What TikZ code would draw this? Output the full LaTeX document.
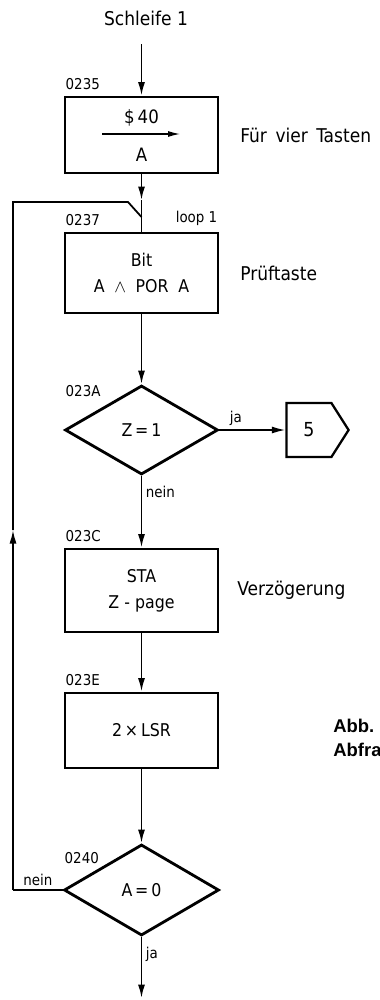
\documentclass[tikz,border=0pt]{standalone}
\usepackage{fontspec}
\setmainfont{DejaVu Sans Condensed}
\newfontfamily\capfont{Liberation Sans}
\usetikzlibrary{shapes.geometric, shapes.symbols, arrows.meta, positioning}
\tikzset{
  box/.style = {rectangle, draw, line width=1.6pt, minimum width=3.06cm, inner sep=0pt,
                align=center, font=\fontsize{10}{15}\selectfont},
  decision/.style = {diamond, draw, line width=1.6pt, minimum width=3.06cm, minimum height=1.78cm,
                     aspect=1.7, inner sep=0pt, font=\fontsize{10}{12}\selectfont},
  exitmark/.style = {signal, signal to=east, signal pointer angle=115, draw, line width=1.3pt,
                     minimum width=1.24cm, minimum height=1.08cm, inner sep=0pt,
                     font=\fontsize{11}{12}\selectfont},
  line/.style = {line width=1pt},
  arrow/.style = {line, -{Latex[length=2.7mm, width=1.4mm]}},
  thinarrow/.style = {line width=0.7pt, -{Latex[length=2.4mm, width=1.2mm]}},
  addr/.style = {font=\fontsize{8.5}{9}\selectfont, inner sep=1pt},
  lbl/.style = {font=\fontsize{8.5}{10}\selectfont, inner sep=2pt},
  note/.style = {font=\fontsize{10.8}{12}\selectfont, anchor=west, inner sep=0pt},
  fig/.style = {font=\capfont\bfseries\fontsize{10.5}{12}\selectfont, anchor=west, inner sep=0pt},
}

\begin{document}
\begin{tikzpicture}
  \useasboundingbox (0,0) rectangle (7.58,-20);
  % x-position of the main column
  \def\colX{2.83}
  \def\loopX{0.26}
  \def\loopY{-4.04}

  % --- Start ---
  \node[font=\fontsize{10.8}{12}\selectfont] at (2.92,-0.36) (Start) {Schleife 1};

  % --- Boxes and decisions ---
  \node[box, minimum height=1.52cm] at (\colX,-2.70) (B1) {};
  \node[font=\fontsize{10.5}{12}\selectfont] at (\colX,-2.36) (B1top) {\$\,40};
  \node[font=\fontsize{10.5}{12}\selectfont] at (\colX,-3.10) (B1bot) {A};
  \coordinate (B1l) at (2.04,-2.68);
  \coordinate (B1r) at (3.60,-2.68);
  \draw[thinarrow] (B1l) -- (B1r);

  \node[box, minimum height=1.60cm] at (\colX,-5.46) (B2)
    {Bit\\A\hspace{0.55em}$\wedge$\hspace{0.55em}POR\hspace{0.55em}A};
  \node[decision] at (\colX,-8.60) (D1) {Z\,=\,1};
  \node[exitmark] at (6.18,-8.60) (X5) {5};
  \node[box, minimum height=1.66cm] at (\colX,-11.81) (B3) {STA\\Z - page};
  \node[box, minimum height=1.50cm] at (\colX,-14.61) (B4) {2\,×\,LSR};
  \node[decision, minimum width=3.1cm, minimum height=1.82cm] at (\colX,-17.80) (D2) {A\,=\,0};

  % --- Addresses ---
  \node[addr, anchor=south west] at ([yshift=2pt] B1.north west) (a0235) {0235};
  \node[addr, anchor=south west] at ([yshift=2pt] B2.north west) (a0237) {0237};
  \node[addr, anchor=south east] at ([yshift=2pt] B2.north east) (loop1) {loop 1};
  \node[addr, anchor=west] at ([yshift=-0.14cm] D1.north -| D1.west) (a023A) {023A};
  \node[addr, anchor=south west] at ([yshift=2pt] B3.north west) (a023C) {023C};
  \node[addr, anchor=south west] at ([yshift=2pt] B4.north west) (a023E) {023E};
  \node[addr, anchor=west] at ([yshift=-0.3cm] D2.north -| D2.west) (a0240) {0240};

  % --- Notes ---
  \node[note] at (4.80,-2.70) (n1) {Für\hspace{0.45em}vier\hspace{0.45em}Tasten};
  \node[note] at (4.80,-5.46) (n2) {Prüftaste};
  \node[note] at (4.74,-11.80) (n3) {Verzögerung};
  \node[fig] at (6.66,-14.52) (c1) {Abb.};
  \node[fig] at (6.66,-15.00) (c2) {Abfra};

  % --- Flow ---
  \coordinate (A1) at (\colX,-4.00);
  \coordinate (J) at (\colX,-4.34);
  \coordinate (Out) at (\colX,-19.96);
  \draw[arrow] ([yshift=-0.25cm] Start.south -| B1.north) -- (B1.north);
  \draw[arrow] (B1.south) -- (A1);
  \draw[line] (A1) -- (B2.north);
  \draw[arrow] (B2.south) -- (D1.north);
  \draw[arrow] (D1.east) -- node[pos=0.25, above, lbl] {ja} (X5.west);
  \draw[arrow] (D1.south) -- node[pos=0.22, right, lbl] {nein} (B3.north);
  \draw[arrow] (B3.south) -- (B4.north);
  \draw[arrow] (B4.south) -- (D2.north);
  \draw[arrow] (D2.south) -- node[pos=0.28, right, lbl] {ja} (Out);

  % --- Loop back ---
  \coordinate (LoopB) at (\loopX,-17.80);
  \coordinate (LoopM) at (\loopX,-10.60);
  \coordinate (LoopL) at (\loopX,\loopY);
  \coordinate (LoopR) at (2.56,\loopY);
  \draw[line] (D2.west) -- node[above, lbl] {nein} (LoopB);
  \draw[arrow] (LoopB) -- (LoopM);
  \draw[line] (LoopM) -- (LoopL) -- (LoopR) -- (J);
\end{tikzpicture}
\end{document}
